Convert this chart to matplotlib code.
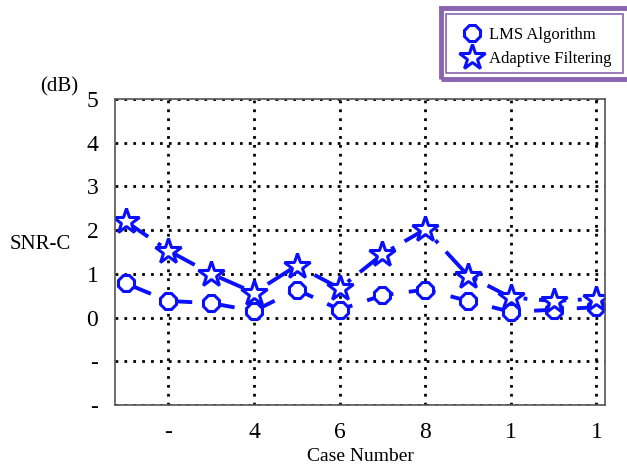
import numpy as np
import matplotlib.pyplot as plt
from matplotlib.patches import Rectangle

plt.rcParams['font.family'] = ['Liberation Serif', 'DejaVu Serif']

# Data
cases = [1, 2, 3, 4, 5, 6, 7, 8, 9, 10, 11, 12]
lms = [0.78, 0.38, 0.33, 0.15, 0.64, 0.18, 0.51, 0.64, 0.38, 0.13, 0.18, 0.24]
adaptive = [2.2, 1.53, 1.0, 0.57, 1.19, 0.67, 1.45, 2.02, 0.96, 0.46, 0.38, 0.43]

xticks = [2, 4, 6, 8, 10, 12]
xtick_labels = ["-", "4", "6", "8", "1", "1"]
yticks = [5, 4, 3, 2, 1, 0, -1, -2]
ytick_labels = ["5", "4", "3", "2", "1", "0", "-", "-"]

blue = '#0a10ff'

fig = plt.figure(figsize=(6.27, 4.67), dpi=100)
ax = fig.add_axes([115/627, 1 - 405/467, 490/627, 306/467])

l1, = ax.plot(cases, lms, color=blue, ls=(0, (7, 4)), lw=2.8, marker='8',
              ms=12, mfc='white', mec=blue, mew=2.2)
l2, = ax.plot(cases, adaptive, color=blue, ls=(0, (7, 3, 1, 3)), lw=2.8, marker='*',
              ms=19, mfc='white', mec=blue, mew=2.2)

ax.set_xlim(0.75, 12.2)
ax.set_ylim(-2, 5)
ax.set_xticks(xticks)
ax.set_xticklabels(xtick_labels, fontsize=17)
ax.set_yticks(yticks)
ax.set_yticklabels(ytick_labels, fontsize=17)
ax.tick_params(axis='x', length=0, pad=12)
ax.tick_params(axis='y', length=0, pad=12)
ax.grid(True, color='black', ls=(0, (1, 2.2)), lw=2)
for s in ax.spines.values():
    s.set_color('#555555')
    s.set_linewidth(1.2)

ax.set_xlabel('Case Number', fontsize=14, labelpad=4)
fig.text(10/627, 1 - 245/467, 'SNR-C', fontsize=15, ha='left', va='center')
fig.text(40/627, 1 - 87/467, '(dB)', fontsize=15, ha='left', va='center')

# double purple legend border
fig.patches.append(Rectangle((441/627, 1 - 79/467), 200/627, 71/467,
                             transform=fig.transFigure, fill=False,
                             edgecolor='#8a64b0', lw=3.5))
fig.patches.append(Rectangle((446/627, 1 - 73/467), 177/627, 59/467,
                             transform=fig.transFigure, fill=False,
                             edgecolor='#8a64b0', lw=1.2))

fig.legend([l1, l2], ['LMS Algorithm', 'Adaptive Filtering'],
           loc='upper left', bbox_to_anchor=(452/627, 1 - 15/467),
           frameon=False, fontsize=12, handlelength=1.0, handletextpad=0.5,
           labelspacing=0.5, borderpad=0.2)
leg = fig.legends[0]
for h in leg.legend_handles:
    h.set_linestyle('none')

fig.savefig('out.png', dpi=100)
